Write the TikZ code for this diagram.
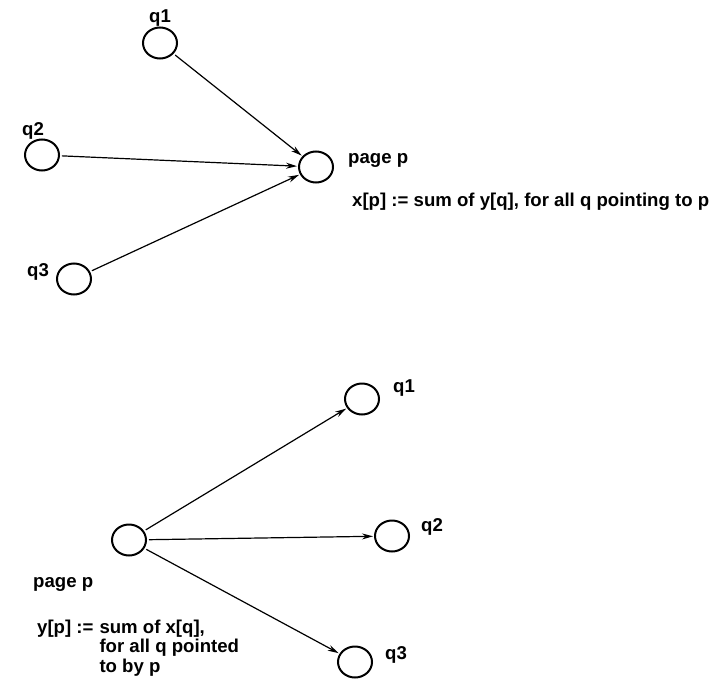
\documentclass[tikz,border=0pt]{standalone}
\usepackage{fontspec}
\setmainfont{Liberation Sans}
\usepackage{tikz}
\usetikzlibrary{arrows.meta,shapes.geometric}
\tikzset{
	pagenode/.style={ellipse, draw=black, line width=2pt, minimum width=34pt, minimum height=31pt, inner sep=0pt},
	linkarrow/.style={-{Stealth[length=11pt,width=6pt]}, line width=1.2pt, shorten >=1pt, shorten <=2pt},
	pagelabel/.style={font=\fontsize{18.6}{21.5}\selectfont\bfseries, inner sep=0pt}
}
\begin{document}
\begin{tikzpicture}[x=1pt,y=-1pt]
			\useasboundingbox[fill=white] (0,0) rectangle (714,682);
			
			\node[pagenode] (a1) at (160,43) {};
			\node[pagenode] (a2) at (42,155) {};
			\node[pagenode] (a3) at (74,279) {};
			\node[pagenode] (ap) at (316,167) {};
			\node[pagelabel] (la1) at (160,18) {q1};
			\node[pagelabel] (la2) at (33,131) {q2};
			\node[pagelabel] (la3) at (38,272) {q3};
			\node[pagelabel, anchor=base west] (lap) at (348,163) {page p};
			\node[pagelabel, anchor=base west] (sumx) at (352,206) {x[p] := sum of y[q], for all q pointing to p};
			
			\draw[linkarrow] (a1) -- (ap);
			\draw[linkarrow] (a2) -- (ap);
			\draw[linkarrow] (a3) -- (ap);
			
			
			\node[pagenode] (bp) at (129,540) {};
			\node[pagenode] (b1) at (362,399) {};
			\node[pagenode] (b2) at (392,536) {};
			\node[pagenode] (b3) at (355,662) {};
			\node[pagelabel] (lb1) at (404,388) {q1};
			\node[pagelabel] (lb2) at (432,527) {q2};
			\node[pagelabel] (lb3) at (396,655) {q3};
			\node[pagelabel, anchor=base west] (lbp) at (33,587) {page p};
			\node[pagelabel, anchor=base west] (sumy) at (37,633) {\begin{tabular}[t]{@{}l@{\hspace{6pt}}l@{}}y[p] := & sum of x[q],\\[-2pt] & for all q pointed\\[-2pt] & to by p\end{tabular}};
			
			\draw[linkarrow] (bp) -- (b1);
			\draw[linkarrow] (bp) -- (b2);
			\draw[linkarrow] (bp) -- (b3);
		\end{tikzpicture}
\end{document}
